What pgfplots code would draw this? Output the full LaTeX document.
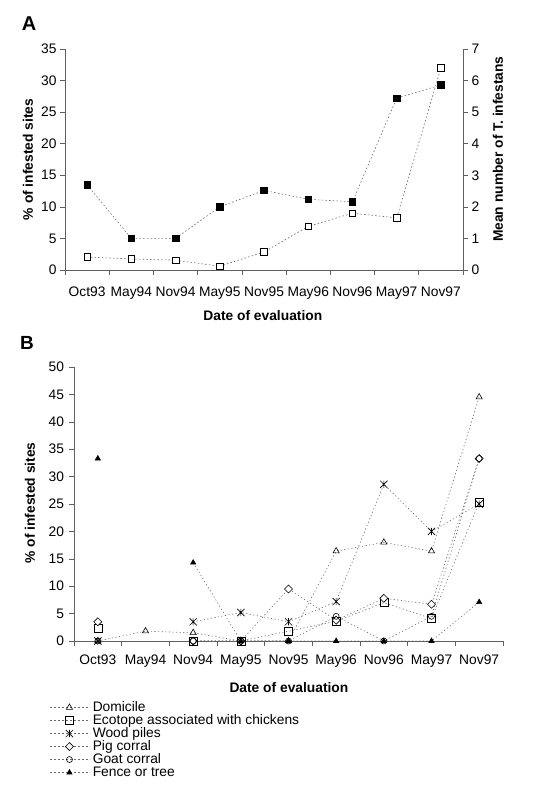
\documentclass[border=0pt]{standalone}
\usepackage{fontspec}
\setmainfont{Liberation Sans}
\usepackage{pgfplots}
\pgfplotsset{compat=1.18}
\definecolor{axgray}{HTML}{606060}
\definecolor{lngray}{HTML}{6A6A6A}

\pgfdeclareplotmark{xstar}{%
 \pgfpathmoveto{\pgfqpoint{0pt}{\pgfplotmarksize}}\pgfpathlineto{\pgfqpoint{0pt}{-\pgfplotmarksize}}%
 \pgfpathmoveto{\pgfqpoint{-\pgfplotmarksize}{\pgfplotmarksize}}\pgfpathlineto{\pgfqpoint{\pgfplotmarksize}{-\pgfplotmarksize}}%
 \pgfpathmoveto{\pgfqpoint{-\pgfplotmarksize}{-\pgfplotmarksize}}\pgfpathlineto{\pgfqpoint{\pgfplotmarksize}{\pgfplotmarksize}}%
 \pgfusepathqstroke}
\pgfdeclareplotmark{xdiamond}{%
 \pgfpathmoveto{\pgfqpoint{0pt}{\pgfplotmarksize}}\pgfpathlineto{\pgfqpoint{\pgfplotmarksize}{0pt}}%
 \pgfpathlineto{\pgfqpoint{0pt}{-\pgfplotmarksize}}\pgfpathlineto{\pgfqpoint{-\pgfplotmarksize}{0pt}}%
 \pgfpathclose\pgfusepathqfillstroke}

\newcommand{\fs}{\fontsize{13.8}{14}\selectfont}

\pgfplotsset{
  excel/.style={
    scale only axis,
    xmin=-0.5, xmax=8.5,
    xtick={0,...,8},
    xticklabels={Oct93,May94,Nov94,May95,Nov95,May96,Nov96,May97,Nov97},
    minor xtick={-0.5,0.5,...,8.5},
    major x tick style={draw=none},
    tick align=outside,
    major tick length=5pt, minor tick length=5pt,
    tick style={axgray, line width=0.6pt},
    axis line style={axgray, line width=0.6pt, -},
    tick label style={font=\fs, black},
    /pgf/number format/assume math mode=true,
    label style={font=\fs\bfseries},
    clip=false,
  },
  aline/.style={lngray, line width=0.6pt, dash pattern=on 1.5pt off 2.2pt},
  bline/.style={lngray, line width=0.6pt, dash pattern=on 1.2pt off 2.4pt},
}

\begin{document}
\begin{tikzpicture}
\useasboundingbox (0pt,0pt) rectangle (542pt,792pt);

\node[font=\fontsize{20}{20}\selectfont\bfseries] at (29pt,768pt) {A};
\node[font=\fontsize{19}{19}\selectfont\bfseries] at (27pt,449pt) {B};

% ---------- Panel A ----------
\begin{axis}[excel,
  at={(65pt,522pt)}, anchor=south west,
  width=398pt, height=221pt,
  axis x line*=bottom, axis y line*=left,
  ymin=0, ymax=35, ytick={0,5,...,35},
  xticklabel style={yshift=-8pt},
  xlabel={Date of evaluation},
  xlabel style={at={(axis description cs:0.497,-0.204)}, anchor=center},
  ylabel={\% of infested sites},
  ylabel style={at={(axis description cs:-0.093,0.5)}, anchor=center},
]
\addplot[aline, mark=square*, mark size=3.3pt,
  mark options={solid, fill=black, draw=black}] coordinates {
  (0,13.5) (1,5.0) (2,5.0) (3,10.0) (4,12.6) (5,11.2) (6,10.8) (7,27.2) (8,29.3)};
\end{axis}
\begin{axis}[excel,
  at={(65pt,522pt)}, anchor=south west,
  width=398pt, height=221pt,
  axis x line=none, axis y line*=right,
  ymin=0, ymax=7, ytick={0,1,...,7},
  ylabel={Mean number of T. infestans},
  ylabel style={at={(axis description cs:1.088,0.547)}, anchor=center},
]
\addplot[aline, mark=square*, mark size=3.3pt,
  mark options={solid, fill=white, draw=black}] coordinates {
  (0,0.41) (1,0.35) (2,0.31) (3,0.12) (4,0.57) (5,1.38) (6,1.80) (7,1.65) (8,6.40)};
\end{axis}

% ---------- Panel B ----------
\begin{axis}[excel,
  at={(74pt,151pt)}, anchor=south west,
  width=429pt, height=274pt,
  axis x line*=bottom, axis y line*=left,
  ymin=0, ymax=50, ytick={0,5,...,50},
  unbounded coords=jump,
  xticklabel style={yshift=-5pt},
  yticklabel style={xshift=-1.5pt},
  xlabel={Date of evaluation},
  xlabel style={at={(axis description cs:0.501,-0.1715)}, anchor=center},
  ylabel={\% of infested sites},
  ylabel style={at={(axis description cs:-0.1026,0.504)}, anchor=center},
  legend cell align=left,
  legend image code/.code={\draw[mark repeat=2, mark phase=2, dash pattern=on 2pt off 2pt]
     plot coordinates {(0pt,0pt) (19pt,0pt) (40pt,0pt)};},
  legend style={at={(axis description cs:-0.056,-0.219)}, anchor=north west,
     draw=none, fill=none, font=\fs, inner sep=0pt, row sep=0.3pt,
     nodes={inner sep=0pt, text height=9.8pt, text depth=2.9pt},
     /tikz/every odd column/.append style={column sep=2pt}},
]
\addplot[bline, mark=triangle, mark size=3.6pt, mark options={solid, fill=white, draw=black}] coordinates {
  (0,0) (1,1.8) (2,1.5) (3,0) (4,0) (5,16.4) (6,18.0) (7,16.4) (8,44.5)};
\addlegendentry{Domicile}
\addplot[bline, mark=square, mark size=4pt, mark options={solid, fill=white, draw=black}] coordinates {
  (0,2.3) (1,nan) (2,0) (3,0) (4,1.8) (5,3.6) (6,7.0) (7,4.1) (8,25.3)};
\addlegendentry{Ecotope associated with chickens}
\addplot[bline, mark=xstar, mark size=3.6pt, mark options={solid, draw=black}] coordinates {
  (0,0) (1,nan) (2,3.5) (3,5.2) (4,3.5) (5,7.2) (6,28.6) (7,20.0) (8,25.0)};
\addlegendentry{Wood piles}
\addplot[bline, mark=xdiamond, mark size=4pt, mark options={solid, fill=white, draw=black}] coordinates {
  (0,3.5) (1,nan) (2,0) (3,0) (4,9.5) (5,3.8) (6,7.8) (7,6.7) (8,33.3)};
\addlegendentry{Pig corral}
\addplot[bline, mark=o, mark size=3pt, mark options={solid, fill=white, draw=black}] coordinates {
  (0,0) (1,nan) (2,0) (3,0) (4,0) (5,4.5) (6,0) (7,4.5) (8,33.3)};
\addlegendentry{Goat corral}
\addplot[bline, mark=triangle*, mark size=3pt, mark options={solid, fill=black, draw=black}] coordinates {
  (0,33.3) (1,nan) (2,14.3) (3,0) (4,0) (5,0) (6,0) (7,0) (8,7.1)};
\addlegendentry{Fence or tree}
\end{axis}
\end{tikzpicture}
\end{document}
